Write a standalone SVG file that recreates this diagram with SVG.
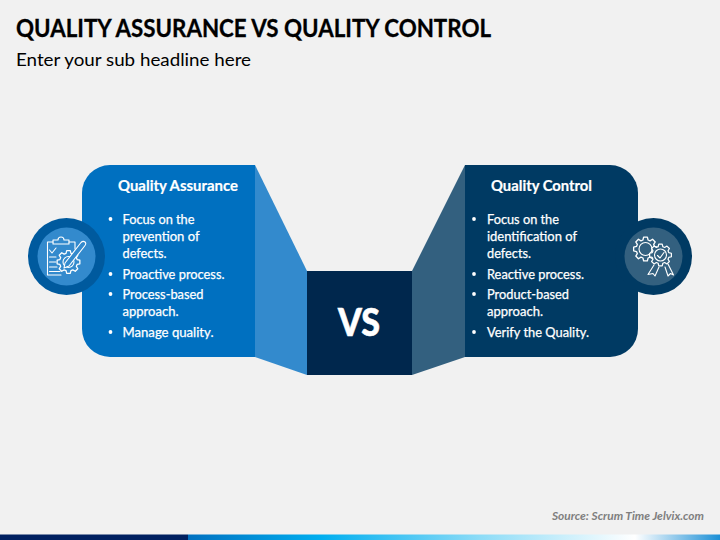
<svg xmlns="http://www.w3.org/2000/svg" width="720" height="540" viewBox="0 0 720 540">
<style>
text{font-family:"Lato","Liberation Sans",sans-serif}
.t{fill:#fff;font-size:13px;stroke:#fff;stroke-width:.25}
.h{fill:#fff;font-size:15px;font-weight:700;stroke:#fff;stroke-width:.2}
.b{fill:#fff}
.ic{fill:none;stroke:#fff;stroke-width:1.1;stroke-linejoin:round;stroke-linecap:round}
</style>
<defs>
<linearGradient id="bar" x1="0" x2="1" y1="0" y2="0">
<stop offset="0" stop-color="#0070c0"/>
<stop offset=".25" stop-color="#00aeef"/>
<stop offset=".55" stop-color="#8ddcf7"/>
<stop offset=".84" stop-color="#ffffff"/>
<stop offset="1" stop-color="#1b8fd6"/>
</linearGradient>
<path id="gear" d="M7.500 -2.150L9.880 -1.560V1.560L7.500 2.150L6.820 3.780L8.090 5.880L5.880 8.090L3.780 6.820L2.150 7.500L1.560 9.880H-1.560L-2.150 7.500L-3.780 6.820L-5.880 8.090L-8.090 5.880L-6.820 3.780L-7.500 2.150L-9.880 1.560V-1.560L-7.500 -2.150L-6.820 -3.780L-8.090 -5.880L-5.880 -8.090L-3.780 -6.820L-2.150 -7.500L-1.560 -9.880H1.560L2.150 -7.500L3.780 -6.820L5.880 -8.090L8.090 -5.880L6.820 -3.780Z"/>
</defs>
<rect width="720" height="540" fill="#f1f1f1"/>
<text x="16" y="37" font-size="24.500" font-weight="700" fill="#000" stroke="#000" stroke-width=".3" textLength="475" lengthAdjust="spacingAndGlyphs">QUALITY ASSURANCE VS QUALITY CONTROL</text>
<text x="16" y="66" font-size="18" fill="#000" textLength="235" lengthAdjust="spacingAndGlyphs">Enter your sub headline here</text>

<g id="vs">
<rect x="307" y="271" width="105" height="104" fill="#00274d"/>
<text x="359" y="336" font-size="38" font-weight="900" fill="#fff" stroke="#fff" stroke-width=".6" text-anchor="middle" textLength="42" lengthAdjust="spacingAndGlyphs">VS</text>
</g>

<g id="qa">
<path d="M255 165L307 271V375L255 357Z" fill="#338acd"/>
<path d="M255 165V357H110A28 28 0 0 1 82 329V193A28 28 0 0 1 110 165Z" fill="#0070c0"/>
<text class="h" x="118" y="191" textLength="120" lengthAdjust="spacingAndGlyphs">Quality Assurance</text>
<circle class="b" cx="110.500" cy="219" r="1.900"/>
<text class="t" x="122.500" y="224" textLength="72" lengthAdjust="spacingAndGlyphs">Focus on the</text>
<text class="t" x="122.500" y="241" textLength="77" lengthAdjust="spacingAndGlyphs">prevention of</text>
<text class="t" x="122.500" y="258" textLength="44" lengthAdjust="spacingAndGlyphs">defects.</text>
<circle class="b" cx="110.500" cy="274" r="1.900"/>
<text class="t" x="122.500" y="279" textLength="102" lengthAdjust="spacingAndGlyphs">Proactive process.</text>
<circle class="b" cx="110.500" cy="294" r="1.900"/>
<text class="t" x="122.500" y="299" textLength="81" lengthAdjust="spacingAndGlyphs">Process-based</text>
<text class="t" x="122.500" y="316" textLength="56" lengthAdjust="spacingAndGlyphs">approach.</text>
<circle class="b" cx="110.500" cy="332" r="1.900"/>
<text class="t" x="122.500" y="337" textLength="91" lengthAdjust="spacingAndGlyphs">Manage quality.</text>
<circle cx="66.500" cy="256.500" r="38.500" fill="#005a9e"/>
<circle cx="66.500" cy="256.500" r="29" fill="#338acd"/>
<g class="ic">
<path d="M53 242H47.500V275H61"/>
<path d="M69 242H75V249"/>
<path d="M53 240H58Q58 237 61 237Q64 237 64 240H69V244H53Z"/>
<path d="M49.500 250L52 253L56 248"/>
<path d="M49.500 257H56M49.500 262H56M49.500 267H57M49.500 271.500H60"/>
<use href="#gear" transform="translate(68.500 262) scale(1.150)" fill="#338acd"/>
<circle cx="68.500" cy="262" r="5.500"/>
<path d="M65 263L81 242.500Q83 240.500 85 242Q86.500 243.500 85 245.500L69 266L64 268Z" fill="#338acd"/>
</g>
</g>

<g id="qc">
<path d="M412 271L465 165V357L412 375Z" fill="#33607f"/>
<path d="M465 165V357H610A28 28 0 0 0 638 329V193A28 28 0 0 0 610 165Z" fill="#003a63"/>
<text class="h" x="491" y="191" textLength="101" lengthAdjust="spacingAndGlyphs">Quality Control</text>
<circle class="b" cx="474" cy="219" r="1.900"/>
<text class="t" x="487" y="224" textLength="72" lengthAdjust="spacingAndGlyphs">Focus on the</text>
<text class="t" x="487" y="241" textLength="90" lengthAdjust="spacingAndGlyphs">identification of</text>
<text class="t" x="487" y="258" textLength="44" lengthAdjust="spacingAndGlyphs">defects.</text>
<circle class="b" cx="474" cy="274" r="1.900"/>
<text class="t" x="487" y="279" textLength="97" lengthAdjust="spacingAndGlyphs">Reactive process.</text>
<circle class="b" cx="474" cy="294" r="1.900"/>
<text class="t" x="487" y="299" textLength="82" lengthAdjust="spacingAndGlyphs">Product-based</text>
<text class="t" x="487" y="316" textLength="56" lengthAdjust="spacingAndGlyphs">approach.</text>
<circle class="b" cx="474" cy="332" r="1.900"/>
<text class="t" x="487" y="337" textLength="102" lengthAdjust="spacingAndGlyphs">Verify the Quality.</text>
<circle cx="653.500" cy="256.500" r="38.500" fill="#003a63"/>
<circle cx="653.500" cy="256.500" r="29" fill="#33607f"/>
<g class="ic">
<use href="#gear" transform="translate(645.500 249) scale(1.200)"/>
<circle cx="645.500" cy="249" r="6.500"/>
<path d="M654 265L648 274.500L653 273.500L655 276L659 267"/>
<path d="M665 267L668 276L670.500 273.500L673.500 275L668 264"/>
<use href="#gear" transform="translate(660.500 255) scale(1.100)" fill="#33607f"/>
<circle cx="660.500" cy="255" r="6"/>
<path d="M657.500 255.500L660 258L664 252.500"/>
</g>
</g>

<text x="704" y="520" font-size="10.500" font-weight="700" font-style="italic" fill="#7f7f7f" text-anchor="end" textLength="152" lengthAdjust="spacingAndGlyphs">Source: Scrum Time Jelvix.com</text>
<rect x="0" y="534.500" width="188" height="5.500" fill="#002060"/>
<rect x="188" y="534.500" width="532" height="5.500" fill="url(#bar)"/>
</svg>
